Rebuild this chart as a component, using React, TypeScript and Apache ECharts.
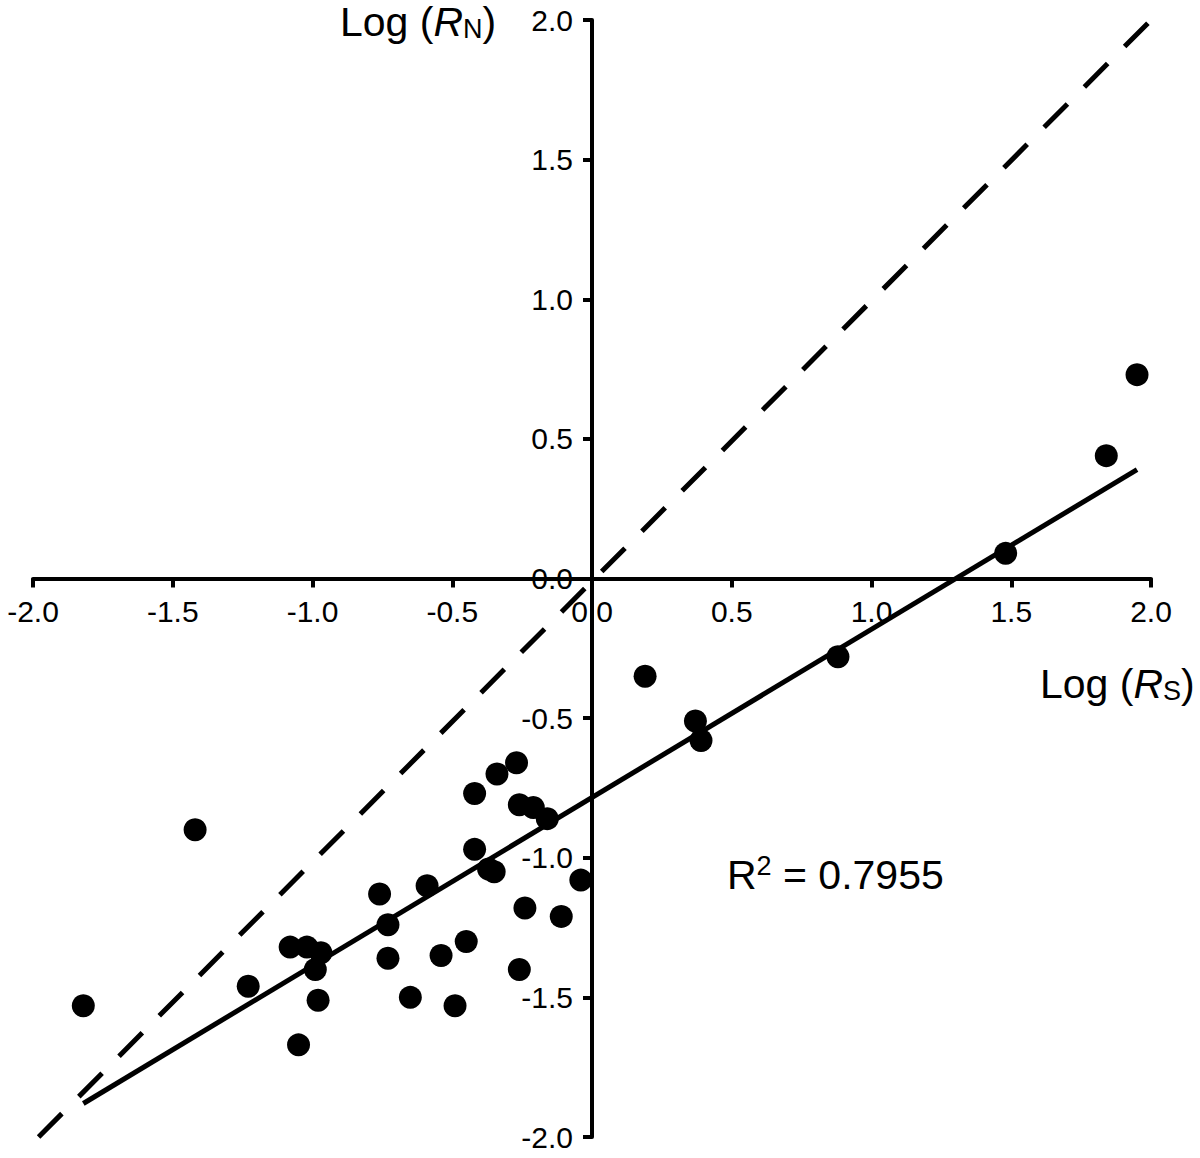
import React, { useEffect, useRef } from "react";
import * as echarts from "echarts";

const xValues = [
  -1.82, -1.42, -1.23, -1.08, -1.02, -1.05, -0.97, -0.99, -0.98, -0.76,
  -0.73, -0.73, -0.65, -0.59, -0.54, -0.49, -0.45, -0.42, -0.42, -0.37,
  -0.35, -0.34, -0.27, -0.26, -0.21, -0.16, -0.24, -0.26, -0.11, -0.04,
  0.19, 0.37, 0.39, 0.88, 1.48, 1.84, 1.95,
];
const yValues = [
  -1.53, -0.9, -1.46, -1.32, -1.32, -1.67, -1.34, -1.4, -1.51, -1.13,
  -1.24, -1.36, -1.5, -1.1, -1.35, -1.53, -1.3, -0.77, -0.97, -1.04,
  -1.05, -0.7, -0.66, -0.81, -0.82, -0.86, -1.18, -1.4, -1.21, -1.08,
  -0.35, -0.51, -0.58, -0.28, 0.09, 0.44, 0.73,
];
const fitLine = [
  [-1.82, -1.88],
  [1.95, 0.39],
];
const identityLine = [
  [-1.98, -2.0],
  [2.03, 2.03],
];
const axisMin = -2;
const axisMax = 2;
const tickStep = 0.5;
const r2Text = "0.7955";

const FONT = "'Liberation Sans', Arial, sans-serif";

const GRID_LEFT = 33;
const GRID_TOP = 20;
const GRID_W = 1118;
const GRID_H = 1117;

export default function App() {
  const ref = useRef<HTMLDivElement>(null);
  useEffect(() => {
    if (!ref.current) return;
    const chart = echarts.init(ref.current, undefined, { renderer: "svg" });
    const points = xValues.map((x, i) => [x, yValues[i]]);
    const axisCommon = {
      type: "value" as const,
      min: axisMin,
      max: axisMax,
      interval: tickStep,
      splitLine: { show: false },
      axisLine: { show: true, onZero: false, lineStyle: { color: "#000", width: 4 } },
      axisTick: { show: true, length: 9, lineStyle: { color: "#000", width: 4 } },
      axisLabel: {
        color: "#000",
        fontSize: 30,
        fontFamily: FONT,
        formatter: (v: number) => v.toFixed(1),
        showMinLabel: true,
        showMaxLabel: true,
      },
    };
    const nameRich = {
      n: { fontSize: 41, lineHeight: 44, fontFamily: FONT, fill: "#000" },
      i: { fontSize: 41, lineHeight: 44, fontFamily: FONT, fontStyle: "italic", fill: "#000" },
      s: { fontSize: 27, lineHeight: 44, fontFamily: FONT, fill: "#000", padding: [14, 0, 0, 0] },
    };
    chart.setOption({
      animation: false,
      backgroundColor: "#fff",
      grid: {
        left: GRID_LEFT,
        top: GRID_TOP,
        width: GRID_W,
        height: GRID_H,
        containLabel: false,
        outerBoundsMode: "none",
      },
      xAxis: {
        ...axisCommon,
        position: "bottom",
        offset: -GRID_H / 2,
        axisLabel: { ...axisCommon.axisLabel, margin: 18 },
      },
      yAxis: {
        ...axisCommon,
        position: "left",
        offset: -GRID_W / 2,
        axisLabel: { ...axisCommon.axisLabel, margin: 19 },
      },
      series: [
        {
          type: "line",
          data: identityLine,
          showSymbol: false,
          symbol: "none",
          clip: false,
          lineStyle: { color: "#000", width: 5, type: [33, 24] },
          z: 2,
        },
        {
          type: "line",
          data: fitLine,
          showSymbol: false,
          symbol: "none",
          lineStyle: { color: "#000", width: 5 },
          z: 3,
        },
        {
          type: "scatter",
          data: points,
          symbol: "circle",
          symbolSize: 23,
          itemStyle: { color: "#000", opacity: 1 },
          z: 4,
        },
      ],
      graphic: [
        {
          type: "text",
          left: 340,
          top: 1,
          style: {
            text: "{n|Log (}{i|R}{s|N}{n|)}",
            rich: nameRich,
          },
        },
        {
          type: "text",
          left: 1040,
          top: 663,
          style: {
            text: "{n|Log (}{i|R}{s|S}{n|)}",
            rich: nameRich,
          },
        },
        {
          type: "text",
          left: 727,
          top: 852,
          style: {
            text: "{n|R}{p|2}{n| = " + r2Text + "}",
            rich: {
              n: { fontSize: 41, fontFamily: FONT, fill: "#000" },
              p: { fontSize: 27, fontFamily: FONT, fill: "#000", padding: [0, 0, 18, 0] },
            },
          },
        },
      ],
    });
    return () => chart.dispose();
  }, []);
  return (
    <div
      ref={ref}
      style={{ position: "fixed", left: 0, top: 0, width: 1200, height: 1158, background: "#fff" }}
    />
  );
}
